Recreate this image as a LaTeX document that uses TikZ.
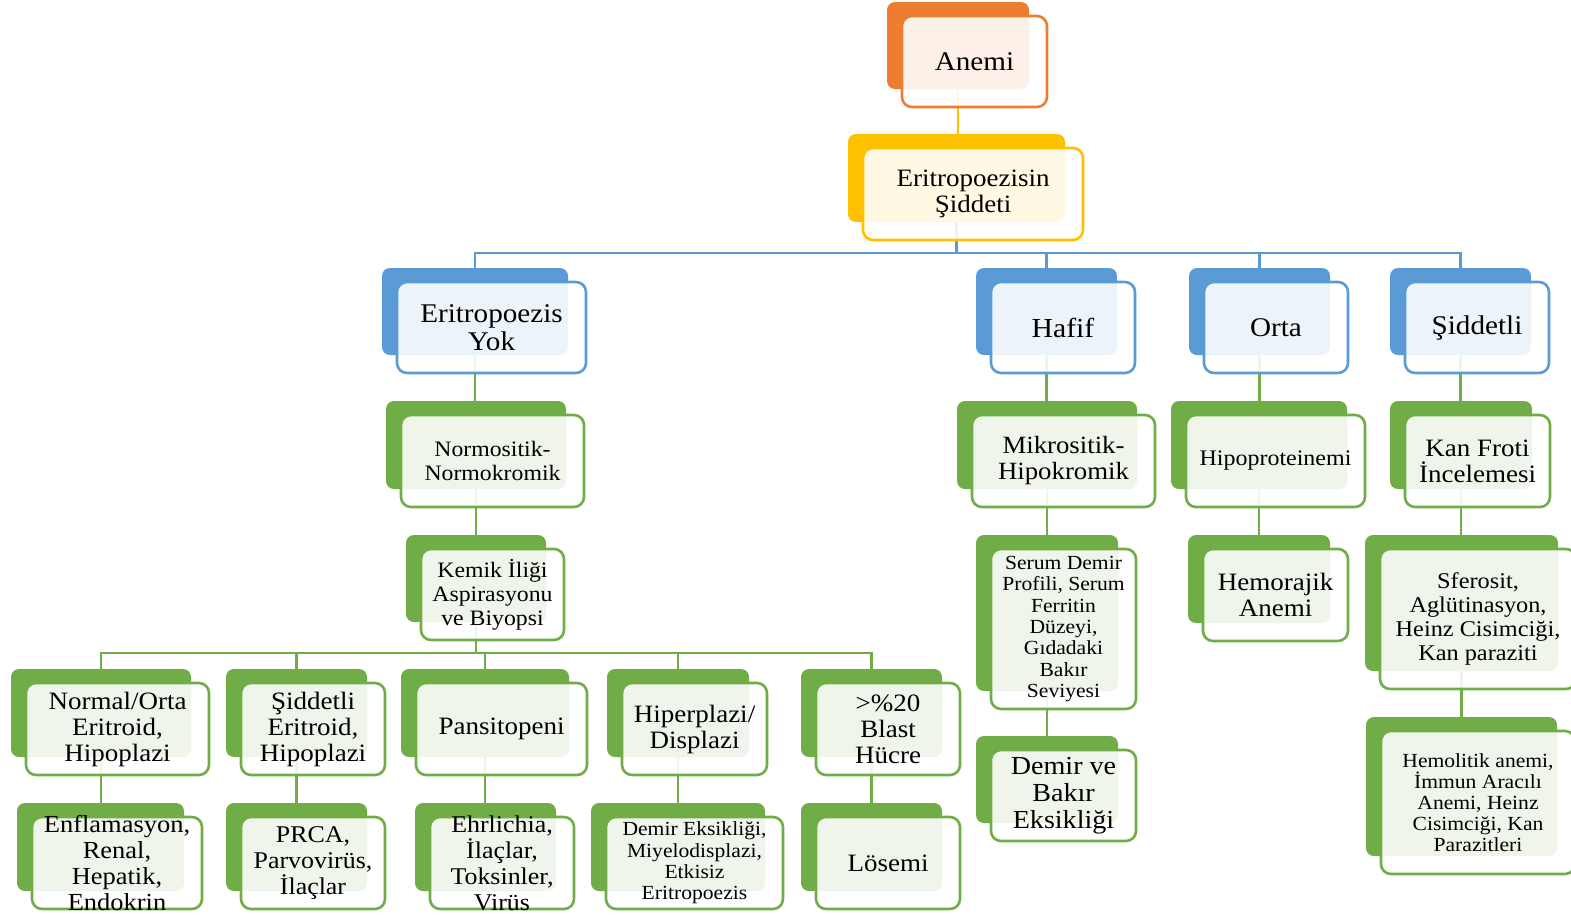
\documentclass[tikz,border=0pt]{standalone}
\usepackage{fontspec}
\setmainfont[FakeStretch=1.08]{Liberation Serif}
\definecolor{cOr}{HTML}{ED7D31}
\definecolor{cYe}{HTML}{FFC000}
\definecolor{cBl}{HTML}{5B9BD5}
\definecolor{cGr}{HTML}{70AD47}
\pgfdeclarelayer{bg}
\pgfsetlayers{bg,main}
\newcommand\fsz[2]{\fontsize{#1}{#2}\selectfont}
\newcommand\bx[8]{%
  \node[backbox, fill=#6, minimum width={(#4-#2)*1pt}, minimum height={(#5-#3)*1pt}] (#1B) at ({(#2+#4)/2},{(#3+#5)/2}) {};
  \node[frontbox, draw=#6, minimum width={(#4-#2+3)*1pt}, minimum height={(#5-#3+4)*1pt}] (#1) at ({(#2+#4)/2+16.5},{(#3+#5)/2+16}) {};
  \node[txt, font={#7}] (#1T) at (#1.center) {#8};
}
\tikzset{
  backbox/.style={rectangle, rounded corners=8pt, draw=none, inner sep=0pt, outer sep=0pt},
  frontbox/.style={rectangle, rounded corners=10pt, fill=white, fill opacity=0.89, line width=2.6pt, inner sep=0pt, outer sep=0pt},
  txt/.style={align=center, inner sep=0pt, text=black},
  edge/.style={line width=2.8pt},
}
\begin{document}
\begin{tikzpicture}[x=1pt,y=-1pt]
\useasboundingbox (0,0) rectangle (1571,914);
\coordinate (busB) at (0,253);
\coordinate (busG) at (0,653);
% level 0-1
\bx{anemi}{887}{2}{1029}{89}{cOr}{\fsz{27}{28}}{Anemi}
\bx{sid}{848}{134}{1065}{222}{cYe}{\fsz{25}{25.5}}{Eritropoezisin\\Şiddeti}
% level 2
\bx{yok}{382}{268}{568}{355}{cBl}{\fsz{27}{28}}{Eritropoezis\\Yok}
\bx{hafif}{976}{268}{1117}{355}{cBl}{\fsz{27.5}{28}}{Hafif}
\bx{orta}{1189}{268}{1330}{355}{cBl}{\fsz{27}{28}}{Orta}
\bx{siddetli}{1390}{268}{1531}{355}{cBl}{\fsz{27}{28}}{Şiddetli}
% level 3
\bx{normo}{386}{401}{566}{489}{cGr}{\fsz{22}{24.5}}{Normositik-\\Normokromik}
\bx{mikro}{957}{401}{1137}{489}{cGr}{\fsz{24.8}{26}}{Mikrositik-\\Hipokromik}
\bx{hipop}{1171}{401}{1347}{489}{cGr}{\fsz{22.2}{25}}{Hipoproteinemi}
\bx{kan}{1390}{401}{1532}{489}{cGr}{\fsz{25}{26}}{Kan Froti\\İncelemesi}
% level 4
\bx{kemik}{406}{535}{546}{622}{cGr}{\fsz{22}{24}}{Kemik İliği\\Aspirasyonu\\ve Biyopsi}
\bx{serum}{976}{535}{1118}{691}{cGr}{\fsz{20}{21.3}}{Serum Demir\\Profili, Serum\\Ferritin\\Düzeyi,\\Gıdadaki\\Bakır\\Seviyesi}
\bx{hemor}{1188}{535}{1330}{623}{cGr}{\fsz{25}{26}}{Hemorajik\\Anemi}
\bx{sfer}{1365}{535}{1558}{671}{cGr}{\fsz{22.5}{24}}{Sferosit,\\Aglütinasyon,\\Heinz Cisimciği,\\Kan paraziti}
% level 5 right
\bx{dbe}{976}{736}{1118}{823}{cGr}{\fsz{26}{27}}{Demir ve\\Bakır\\Eksikliği}
\bx{hemol}{1366}{717}{1557}{856}{cGr}{\fsz{20}{21}}{Hemolitik anemi,\\İmmun Aracılı\\Anemi, Heinz\\Cisimciği, Kan\\Parazitleri}
% level 5 left
\bx{normal}{11}{669}{191}{757}{cGr}{\fsz{25}{26}}{Normal/Orta\\Eritroid,\\Hipoplazi}
\bx{sidE}{226}{669}{367}{757}{cGr}{\fsz{25}{26}}{Şiddetli\\Eritroid,\\Hipoplazi}
\bx{pans}{401}{669}{569}{757}{cGr}{\fsz{25}{26}}{Pansitopeni}
\bx{hiper}{607}{669}{749}{757}{cGr}{\fsz{25}{26}}{Hiperplazi/\\Displazi}
\bx{blast}{801}{669}{942}{757}{cGr}{\fsz{25}{26}}{>\%20\\Blast\\Hücre}
% level 6
\bx{enf}{17}{803}{184}{891}{cGr}{\fsz{24.5}{26}}{Enflamasyon,\\Renal,\\Hepatik,\\Endokrin}
\bx{prca}{226}{803}{367}{891}{cGr}{\fsz{24}{26}}{PRCA,\\Parvovirüs,\\İlaçlar}
\bx{ehr}{415}{803}{556}{891}{cGr}{\fsz{24}{26}}{Ehrlichia,\\İlaçlar,\\Toksinler,\\Virüs}
\bx{dem}{591}{803}{765}{891}{cGr}{\fsz{20}{21.3}}{Demir Eksikliği,\\Miyelodisplazi,\\Etkisiz\\Eritropoezis}
\bx{los}{801}{803}{942}{891}{cGr}{\fsz{25}{26}}{Lösemi}
% ---------- edges on background layer
\begin{pgfonlayer}{bg}
\draw[edge, cYe] (anemiB.center) -- (anemiB.center |- sidB.center);
\foreach \c in {yok,hafif,orta,siddetli}
  \draw[edge, cBl] (sidB.center) -- (sidB.center |- busB) -| (\c B.center);
\foreach \p/\c in {yok/normo, normo/kemik, hafif/mikro, mikro/serum, serum/dbe,
                   orta/hipop, hipop/hemor, siddetli/kan, kan/sfer, sfer/hemol,
                   normal/enf, sidE/prca, pans/ehr, hiper/dem, blast/los}
  \draw[edge, cGr] (\p B.center) -- (\p B.center |- \c B.center);
\foreach \c in {normal,sidE,pans,hiper,blast}
  \draw[edge, cGr] (kemikB.center) -- (kemikB.center |- busG) -| (\c B.center);
\end{pgfonlayer}
\end{tikzpicture}
\end{document}
